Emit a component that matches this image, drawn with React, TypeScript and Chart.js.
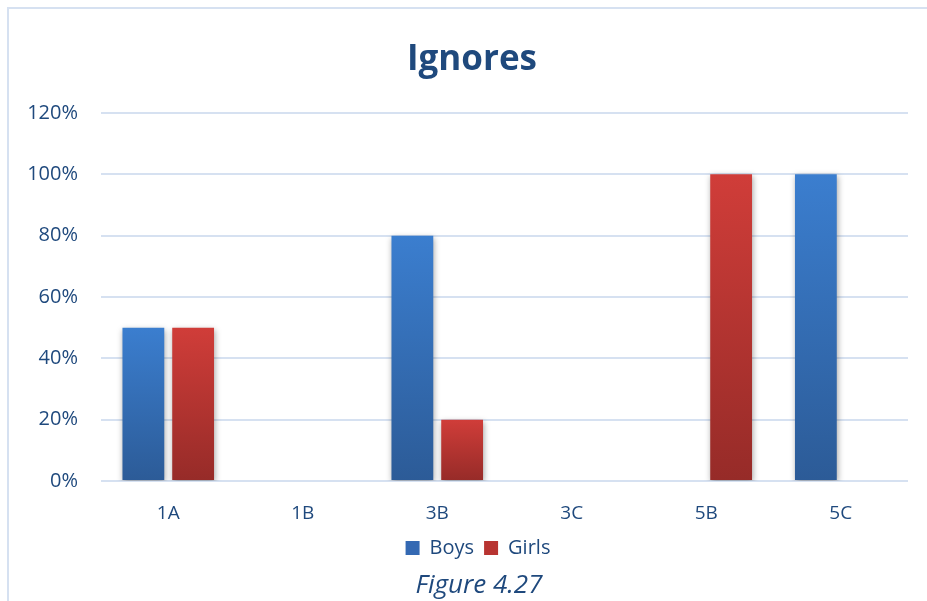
import React, { useEffect, useRef } from "react";
import { Chart, registerables } from "chart.js";

Chart.register(...registerables);

const categories = ["1A", "1B", "3B", "3C", "5B", "5C"];
const boys = [50, 0, 80, 0, 0, 100];
const girls = [50, 0, 20, 0, 100, 0];
const yTicks = [0, 20, 40, 60, 80, 100, 120];

const TEXT = "#1f497d";
const GRID = "#d6e1f1";
const FONT = "'Open Sans', 'Noto Sans', sans-serif";

const BLUE = { top: "#3b7ecf", bottom: "#2c5b97", mid: "#3469b3" };
const RED = { top: "#d03d39", bottom: "#962b28", mid: "#b83431" };

function gradientFor(colors: { top: string; bottom: string; mid: string }) {
  return (ctx: any) => {
    const chart = ctx.chart;
    const y = chart.scales && chart.scales.y;
    if (ctx.type !== "data" || !y || !chart.chartArea) return colors.mid;
    const v = ctx.raw as number;
    const top = y.getPixelForValue(v);
    const bottom = y.getPixelForValue(0);
    if (!isFinite(top) || !isFinite(bottom) || bottom - top < 1) return colors.mid;
    const g = chart.ctx.createLinearGradient(0, top, 0, bottom);
    g.addColorStop(0, colors.top);
    g.addColorStop(1, colors.bottom);
    return g;
  };
}

const shadowPlugin = {
  id: "barShadow",
  beforeDatasetsDraw(chart: any) {
    const c = chart.ctx;
    c.save();
    c.shadowColor = "rgba(0,0,0,0.35)";
    c.shadowBlur = 6;
    c.shadowOffsetX = 1;
    c.shadowOffsetY = 2;
  },
  afterDatasetsDraw(chart: any) {
    chart.ctx.restore();
  },
};

// shift the title and legend horizontally to where the reference centres them
const shiftPlugin = {
  id: "boxShift",
  afterLayout(chart: any) {
    if (chart.titleBlock) {
      chart.titleBlock.left += 18;
      chart.titleBlock.right += 18;
    }
    if (chart.legend) {
      chart.legend.left += 24;
      chart.legend.right += 24;
      if (chart.legend.legendHitBoxes) {
        chart.legend.legendHitBoxes.forEach((h: any) => (h.left += 24));
      }
    }
  },
};

export default function App() {
  const ref = useRef<HTMLCanvasElement | null>(null);

  useEffect(() => {
    if (!ref.current) return;
    const chart = new Chart(ref.current, {
      type: "bar",
      data: {
        labels: categories,
        datasets: [
          {
            label: "Boys",
            data: boys,
            backgroundColor: gradientFor(BLUE) as any,
            borderWidth: 0,
            categoryPercentage: 0.74,
            barPercentage: 0.84,
          },
          {
            label: "Girls",
            data: girls,
            backgroundColor: gradientFor(RED) as any,
            borderWidth: 0,
            categoryPercentage: 0.74,
            barPercentage: 0.84,
          },
        ],
      },
      options: {
        responsive: false,
        animation: false,
        layout: { padding: { left: 0, right: 19, top: 10, bottom: 33 } },
        plugins: {
          title: {
            display: true,
            text: "Ignores",
            color: TEXT,
            font: { family: FONT, size: 35, weight: "bold" },
            padding: { top: 29.5, bottom: 31.5 },
          },
          legend: {
            position: "bottom",
            labels: {
              color: TEXT,
              font: { family: FONT, size: 20 },
              boxWidth: 14,
              boxHeight: 14,
              padding: 10,
              generateLabels: (ch: any) => {
                const items = Chart.defaults.plugins.legend.labels.generateLabels(ch);
                items.forEach((it: any, i: number) => {
                  it.fillStyle = i === 0 ? BLUE.mid : RED.mid;
                  it.strokeStyle = "rgba(0,0,0,0)";
                  it.lineWidth = 0;
                });
                return items;
              },
            },
          },
          tooltip: { enabled: false },
        },
        scales: {
          x: {
            grid: { display: false, drawTicks: false },
            border: { display: false },
            ticks: {
              color: TEXT,
              font: { family: FONT, size: 19 },
              padding: 21,
            },
            afterFit: (s: any) => {
              s.height = 47;
            },
          },
          y: {
            min: 0,
            max: 120,
            afterBuildTicks: (s: any) => {
              s.ticks = yTicks.map((v) => ({ value: v }));
            },
            grid: { color: GRID, lineWidth: 2, drawTicks: false },
            border: { display: false },
            ticks: {
              color: TEXT,
              font: { family: FONT, size: 20 },
              padding: 23,
              callback: (v: any) => `${v}%`,
            },
            afterFit: (s: any) => {
              s.width = 101;
            },
          },
        },
      },
      plugins: [shadowPlugin, shiftPlugin],
    });
    return () => chart.destroy();
  }, []);

  return (
    <div
      style={{
        position: "absolute",
        left: 0,
        top: 0,
        width: 927,
        height: 601,
        background: "#ffffff",
        overflow: "hidden",
      }}
    >
      <div
        style={{
          position: "absolute",
          left: 7,
          top: 7,
          right: -4,
          bottom: -4,
          borderLeft: `2px solid ${GRID}`,
          borderTop: `2px solid ${GRID}`,
        }}
      />
      <canvas
        ref={ref}
        width={927}
        height={601}
        style={{ position: "absolute", left: 0, top: 0, width: 927, height: 601 }}
      />
      <div
        style={{
          position: "absolute",
          left: 0,
          top: 568,
          width: 958,
          textAlign: "center",
          fontFamily: FONT,
          fontStyle: "italic",
          fontSize: 26,
          lineHeight: "31.2px",
          color: TEXT,
        }}
      >
        Figure 4.27
      </div>
    </div>
  );
}
